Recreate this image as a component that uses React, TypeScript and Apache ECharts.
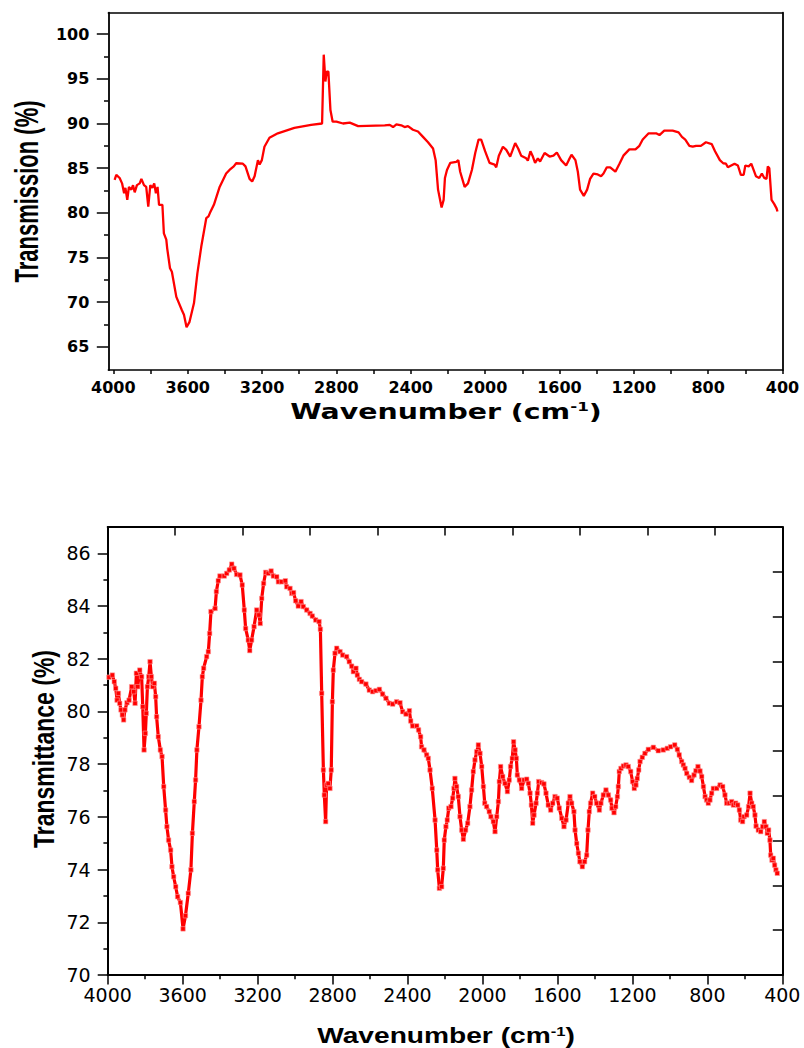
import React, { useEffect, useRef } from "react";
import * as echarts from "echarts";

// ---------- Top spectrum (Transmission %) ----------
const topWavenumber = [
  3993, 3984, 3966, 3953, 3942, 3935, 3925, 3916, 3903, 3894, 3885, 3873, 3858, 3849, 3835, 3823, 3812, 3801, 3790, 3780,
  3771, 3762, 3754, 3736, 3728, 3715, 3710, 3695, 3685, 3661, 3631, 3620, 3606, 3590, 3566, 3548, 3527, 3500, 3488, 3480,
  3459, 3428, 3393, 3375, 3352, 3339, 3303, 3289, 3267, 3253, 3240, 3222, 3213, 3201, 3187, 3160, 3115, 3026, 2936, 2877,
  2868, 2859, 2852, 2843, 2832, 2820, 2800, 2764, 2728, 2683, 2540, 2513, 2495, 2477, 2451, 2433, 2415, 2388, 2361, 2334,
  2307, 2280, 2266, 2253, 2234, 2223, 2216, 2205, 2187, 2155, 2144, 2134, 2110, 2092, 2071, 2053, 2035, 2021, 2000, 1976,
  1949, 1940, 1926, 1904, 1886, 1865, 1854, 1838, 1822, 1806, 1779, 1770, 1756, 1743, 1731, 1716, 1704, 1680, 1653, 1632,
  1614, 1591, 1564, 1550, 1535, 1514, 1501, 1489, 1469, 1451, 1435, 1417, 1394, 1376, 1363, 1345, 1327, 1299, 1277, 1256,
  1224, 1191, 1170, 1152, 1120, 1080, 1062, 1036, 991, 959, 941, 923, 901, 883, 865, 839, 812, 781, 763, 737,
  719, 704, 694, 658, 640, 624, 609, 600, 582, 568, 543, 525, 511, 498, 486, 479, 471, 459, 445, 432,
  427,
];
const topTransmission = [
  83.7, 84.25, 83.9, 83.3, 82.2, 82.8, 81.45, 82.9, 82.6, 83.1, 82.3, 83.1, 83.3, 83.8, 83.1, 82.9, 80.7, 83.1, 82.8, 83.3,
  82.2, 82.9, 80.9, 80.9, 77.7, 77.0, 76.0, 73.8, 73.4, 70.6, 69.1, 68.6, 67.2, 67.8, 69.9, 73.2, 76.2, 79.4, 79.6, 80.0,
  80.9, 82.9, 84.4, 84.8, 85.2, 85.55, 85.5, 85.2, 83.8, 83.5, 84.1, 85.9, 85.4, 85.9, 87.4, 88.4, 88.9, 89.5, 89.85, 90.0,
  97.7, 94.7, 95.8, 95.8, 91.5, 90.2, 90.2, 90.0, 90.1, 89.7, 89.8, 89.85, 89.6, 89.9, 89.8, 89.6, 89.7, 89.3, 89.1, 88.5,
  87.9, 87.2, 85.9, 82.6, 80.6, 81.45, 83.9, 84.8, 85.6, 85.7, 85.9, 84.6, 82.9, 83.3, 84.8, 86.7, 88.2, 88.2, 86.9, 85.6,
  85.4, 85.1, 86.4, 87.4, 87.05, 86.3, 86.9, 87.8, 87.2, 86.4, 86.1, 85.85, 86.9, 86.3, 85.6, 86.1, 85.75, 86.7, 86.3, 86.4,
  86.75, 85.9, 85.3, 85.9, 86.5, 85.9, 84.6, 82.6, 81.9, 82.6, 83.8, 84.4, 84.3, 84.1, 84.4, 85.1, 85.1, 84.6, 85.5, 86.4,
  87.1, 87.1, 87.5, 88.2, 88.9, 88.9, 88.7, 89.2, 89.2, 89.0, 88.5, 88.2, 87.5, 87.4, 87.5, 87.5, 87.9, 87.7, 86.9, 85.9,
  85.55, 85.5, 85.1, 85.5, 85.3, 84.25, 84.25, 85.3, 85.2, 85.5, 84.1, 83.9, 84.4, 83.9, 83.8, 85.2, 85.0, 81.45, 81.0, 80.5,
  80.15,
];

// ---------- Bottom spectrum (Transmittance %) ----------
const bottomWavenumber = [
  3993, 3975, 3965, 3957, 3950, 3943, 3936, 3929, 3922, 3915, 3908, 3897, 3886, 3872, 3861, 3854, 3847, 3840, 3829, 3819,
  3813, 3806, 3799, 3794, 3788, 3781, 3774, 3767, 3760, 3751, 3744, 3739, 3730, 3719, 3710, 3701, 3691, 3684, 3675, 3664,
  3657, 3648, 3637, 3627, 3612, 3598, 3585, 3570, 3556, 3548, 3538, 3531, 3524, 3513, 3502, 3495, 3488, 3472, 3463, 3456,
  3449, 3427, 3420, 3410, 3401, 3378, 3365, 3351, 3338, 3326, 3312, 3294, 3282, 3271, 3264, 3250, 3242, 3232, 3219, 3205,
  3193, 3186, 3178, 3168, 3157, 3143, 3128, 3116, 3098, 3089, 3072, 3052, 3045, 3027, 3018, 3008, 2997, 2983, 2968, 2956,
  2938, 2920, 2908, 2890, 2872, 2865, 2858, 2849, 2844, 2837, 2832, 2823, 2814, 2807, 2801, 2796, 2787, 2778, 2760, 2746,
  2725, 2711, 2698, 2689, 2675, 2668, 2657, 2645, 2622, 2604, 2586, 2568, 2550, 2533, 2515, 2497, 2479, 2458, 2440, 2426,
  2408, 2390, 2383, 2373, 2351, 2341, 2330, 2325, 2312, 2298, 2289, 2280, 2268, 2253, 2244, 2239, 2230, 2218, 2209, 2204,
  2195, 2188, 2180, 2168, 2159, 2152, 2147, 2138, 2129, 2120, 2111, 2102, 2090, 2079, 2067, 2058, 2049, 2040, 2031, 2022,
  2013, 2004, 1995, 1988, 1978, 1964, 1955, 1942, 1933, 1924, 1915, 1910, 1903, 1892, 1880, 1867, 1857, 1850, 1841, 1834,
  1826, 1819, 1814, 1803, 1791, 1778, 1764, 1755, 1746, 1739, 1732, 1725, 1714, 1707, 1700, 1684, 1672, 1661, 1649, 1636,
  1625, 1613, 1601, 1590, 1577, 1565, 1554, 1542, 1533, 1524, 1512, 1506, 1497, 1488, 1480, 1467, 1455, 1444, 1437, 1430,
  1423, 1412, 1401, 1391, 1376, 1368, 1355, 1341, 1328, 1316, 1309, 1298, 1289, 1280, 1275, 1270, 1261, 1248, 1234, 1222,
  1209, 1199, 1190, 1181, 1174, 1166, 1159, 1147, 1133, 1115, 1088, 1062, 1035, 1014, 996, 974, 960, 950, 937, 928,
  919, 910, 896, 884, 871, 861, 850, 839, 830, 821, 812, 804, 795, 786, 777, 768, 750, 732, 718, 706,
  697, 683, 670, 661, 649, 638, 629, 622, 612, 604, 590, 580, 572, 563, 555, 546, 540, 528, 515, 505,
  496, 487, 480, 473, 466, 462, 455, 448, 441, 434, 427,
];
const bottomTransmittance = [
  81.3, 81.38, 81.13, 80.88, 80.43, 80.69, 80.31, 80.06, 79.87, 79.68, 80.06, 80.33, 80.43, 80.94, 80.75, 80.31, 81.45, 80.94, 81.57, 81.32,
  80.18, 78.54, 79.17, 79.93, 80.94, 81.32, 81.89, 81.32, 80.94, 81.07, 80.56, 79.8, 79.04, 78.54, 78.29, 77.15, 76.26, 75.63, 75.12, 74.74,
  74.11, 73.73, 73.35, 72.97, 72.75, 71.75, 72.25, 73.1, 73.99, 75.38, 76.58, 77.4, 78.54, 79.42, 80.43, 81.32, 81.64, 82.08, 82.27, 82.96,
  83.79, 83.91, 84.55, 84.96, 85.14, 85.14, 85.24, 85.37, 85.59, 85.43, 85.2, 85.18, 84.8, 83.85, 83.15, 82.71, 82.31, 82.71, 83.22, 83.85,
  83.66, 83.34, 84.29, 84.86, 85.28, 85.24, 85.33, 85.14, 85.11, 84.92, 84.92, 84.96, 84.73, 84.67, 84.48, 84.51, 84.2, 84.0, 84.17, 83.98,
  83.85, 83.72, 83.62, 83.47, 83.41, 83.12, 80.69, 77.78, 76.83, 75.82, 77.21, 77.27, 77.08, 77.78, 80.37, 81.57, 82.21, 82.4, 82.27, 82.14,
  82.08, 81.89, 81.72, 81.51, 81.64, 81.38, 81.22, 81.13, 81.04, 80.81, 80.75, 80.79, 80.84, 80.66, 80.5, 80.31, 80.28, 80.37, 80.33, 79.99,
  79.9, 80.03, 79.64, 79.45, 79.45, 79.3, 79.04, 78.66, 78.54, 78.35, 78.22, 77.78, 77.08, 75.88, 74.74, 73.99, 73.29, 73.35, 74.05, 75.12,
  75.63, 75.88, 76.33, 76.39, 76.71, 77.08, 77.46, 77.15, 76.77, 76.01, 75.5, 75.15, 75.5, 75.76, 76.39, 77.02, 77.72, 78.16, 78.47, 78.73,
  78.41, 77.91, 77.15, 76.52, 76.39, 76.2, 76.01, 75.82, 75.44, 76.01, 76.58, 77.34, 77.91, 77.53, 77.27, 76.96, 77.4, 77.91, 78.22, 78.85,
  78.54, 78.22, 77.59, 77.4, 77.08, 77.4, 77.43, 77.27, 76.9, 76.45, 75.76, 76.07, 76.52, 76.9, 77.34, 77.3, 77.25, 76.9, 76.45, 76.26,
  76.52, 76.77, 76.71, 76.33, 75.95, 75.63, 75.88, 76.52, 76.77, 76.52, 76.2, 75.5, 74.99, 74.62, 74.3, 74.11, 74.3, 74.55, 75.5, 76.2,
  76.52, 76.9, 76.77, 76.52, 76.26, 76.52, 76.83, 77.02, 76.83, 76.64, 76.33, 76.16, 76.39, 76.77, 77.15, 77.72, 77.84, 77.93, 77.97, 77.91,
  77.72, 77.34, 77.08, 77.21, 77.46, 77.78, 78.1, 78.26, 78.41, 78.56, 78.64, 78.51, 78.54, 78.6, 78.66, 78.73, 78.56, 78.35, 78.1, 77.97,
  77.84, 77.65, 77.5, 77.38, 77.59, 77.75, 77.91, 77.74, 77.53, 77.15, 76.77, 76.64, 76.52, 76.64, 76.9, 77.08, 77.08, 77.21, 77.15, 76.83,
  76.52, 76.52, 76.58, 76.45, 76.52, 76.45, 76.26, 75.88, 75.82, 76.01, 76.07, 76.39, 76.9, 76.52, 76.39, 76.07, 75.65, 75.5, 75.44, 75.63,
  75.82, 75.63, 75.38, 75.5, 75.12, 74.55, 74.36, 74.43, 74.17, 73.99, 73.86,
];

// ---------- Tick values ----------
const xLabelTicks = [4000, 3600, 3200, 2800, 2400, 2000, 1600, 1200, 800, 400];
const xAllTicks = [4000, 3800, 3600, 3400, 3200, 3000, 2800, 2600, 2400, 2200, 2000, 1800, 1600, 1400, 1200, 1000, 800, 600, 400];
const xMinorTicks = [3800, 3400, 3000, 2600, 2200, 1800, 1400, 1000, 600];
const topYLabels = [65, 70, 75, 80, 85, 90, 95, 100];
const topYMinor = [67.5, 72.5, 77.5, 82.5, 87.5, 92.5, 97.5];
const bottomYLabels = [70, 72, 74, 76, 78, 80, 82, 84, 86];
const bottomYMinor = [71, 73, 75, 77, 79, 81, 83, 85];
const bottomTopTicks = [3640, 3280, 2920, 2560, 2200, 1840, 1480, 1120, 760];
const bottomRightTicks = [71.7, 73.4, 75.1, 76.8, 78.5, 80.2, 81.9, 83.6, 85.3];

const zip = (xs: number[], ys: number[]) => xs.map((x, i) => [x, ys[i]]);

const line = (w: number) => ({ show: true, onZero: false, lineStyle: { color: "#000", width: w } });
const noTick = { show: false };
const noLabel = { show: false };
const noSplit = { show: false };
const plain = (v: number) => String(v);

export default function App() {
  const ref = useRef<HTMLDivElement>(null);
  useEffect(() => {
    if (!ref.current) return;
    const chart = echarts.init(ref.current, undefined, { renderer: "svg" });
    const topFont = { fontFamily: "DejaVu Sans", fontWeight: "bold" as const, fontSize: 16, color: "#000", formatter: plain };
    const botFont = { fontFamily: "DejaVu Sans", fontWeight: "normal" as const, fontSize: 19, color: "#000", formatter: plain };
    const option: any = {
      animation: false,
      backgroundColor: "#ffffff",
      grid: [
        { left: 108.3, top: 12.7, width: 674.2, height: 357.4 },
        { left: 107.7, top: 527, width: 674.6, height: 448 },
      ],
      xAxis: [
        {
          type: "value", gridIndex: 0, position: "bottom", inverse: true, min: 400, max: 4027,
          axisLine: line(1.5),
          axisTick: { show: true, inside: false, length: 4, customValues: xAllTicks, lineStyle: { color: "#000", width: 1.5 } },
          axisLabel: { show: true, customValues: xLabelTicks, margin: 9, ...topFont },
          splitLine: noSplit,
        },
        {
          type: "value", gridIndex: 0, position: "top", inverse: true, min: 400, max: 4027,
          axisLine: line(1.5), axisTick: noTick, axisLabel: noLabel, splitLine: noSplit,
        },
        {
          type: "value", gridIndex: 1, position: "bottom", inverse: true, min: 400, max: 4000,
          axisLine: line(2),
          axisTick: { show: true, inside: false, length: 9.5, customValues: xLabelTicks, lineStyle: { color: "#000", width: 1.5 } },
          axisLabel: { show: true, customValues: xLabelTicks, margin: 10, ...botFont },
          splitLine: noSplit,
        },
        {
          type: "value", gridIndex: 1, position: "bottom", inverse: true, min: 400, max: 4000,
          axisLine: { show: false },
          axisTick: { show: true, inside: false, length: 4.3, customValues: xMinorTicks, lineStyle: { color: "#000", width: 1.5 } },
          axisLabel: noLabel, splitLine: noSplit,
        },
        {
          type: "value", gridIndex: 1, position: "top", inverse: true, min: 400, max: 4000,
          axisLine: line(2),
          axisTick: { show: true, inside: true, length: 8.5, customValues: bottomTopTicks, lineStyle: { color: "#000", width: 1.5 } },
          axisLabel: noLabel, splitLine: noSplit,
        },
      ],
      yAxis: [
        {
          type: "value", gridIndex: 0, position: "left", min: 62.4, max: 102.4,
          axisLine: line(1.8),
          axisTick: { show: true, inside: false, length: 11.5, customValues: topYLabels, lineStyle: { color: "#000", width: 1.5 } },
          axisLabel: { show: true, customValues: topYLabels, margin: 19, ...topFont },
          splitLine: noSplit,
        },
        {
          type: "value", gridIndex: 0, position: "left", min: 62.4, max: 102.4,
          axisLine: { show: false },
          axisTick: { show: true, inside: false, length: 4.3, customValues: topYMinor, lineStyle: { color: "#000", width: 1.5 } },
          axisLabel: noLabel, splitLine: noSplit,
        },
        {
          type: "value", gridIndex: 0, position: "right", min: 62.4, max: 102.4,
          axisLine: line(1.8), axisTick: noTick, axisLabel: noLabel, splitLine: noSplit,
        },
        {
          type: "value", gridIndex: 1, position: "left", min: 70, max: 87,
          axisLine: line(2),
          axisTick: { show: true, inside: false, length: 10, customValues: bottomYLabels, lineStyle: { color: "#000", width: 1.5 } },
          axisLabel: { show: true, customValues: bottomYLabels, margin: 17, ...botFont },
          splitLine: noSplit,
        },
        {
          type: "value", gridIndex: 1, position: "left", min: 70, max: 87,
          axisLine: { show: false },
          axisTick: { show: true, inside: false, length: 4.3, customValues: bottomYMinor, lineStyle: { color: "#000", width: 1.5 } },
          axisLabel: noLabel, splitLine: noSplit,
        },
        {
          type: "value", gridIndex: 1, position: "right", min: 70, max: 87,
          axisLine: line(2),
          axisTick: { show: true, inside: true, length: 9.5, customValues: bottomRightTicks, lineStyle: { color: "#000", width: 1.5 } },
          axisLabel: noLabel, splitLine: noSplit,
        },
      ],
      series: [
        {
          type: "line", xAxisIndex: 0, yAxisIndex: 0,
          data: zip(topWavenumber, topTransmission),
          showSymbol: false, symbol: "none",
          lineStyle: { color: "#ff0000", width: 2.3 },
          silent: true,
        },
        {
          type: "line", xAxisIndex: 2, yAxisIndex: 3,
          data: zip(bottomWavenumber, bottomTransmittance),
          symbol: "rect", symbolSize: 4.5, showSymbol: true,
          itemStyle: { color: "#ff0000", borderColor: "#ff9a9a", borderWidth: 0.6 },
          lineStyle: { color: "#ff0000", width: 3.2 },
          silent: true,
        },
      ],
      graphic: [
        {
          type: "text", x: 26.7, y: 191.5, rotation: Math.PI / 2, scaleY: 1.5,
          style: { text: "Transmission (%)", font: 'bold 22px "Liberation Sans"', fill: "#000", align: "center", verticalAlign: "middle" },
        },
        {
          type: "text", x: 446, y: 411, scaleX: 1.29,
          style: {
            text: "{a|Wavenumber (cm}{s|-1}{a|)}", align: "center", verticalAlign: "middle", fill: "#000",
            rich: {
              a: { fontFamily: "DejaVu Sans", fontWeight: "bold", fontSize: 22, fill: "#000", color: "#000" },
              s: { fontFamily: "DejaVu Sans", fontWeight: "bold", fontSize: 13, fill: "#000", color: "#000", verticalAlign: "top" },
            },
          },
        },
        {
          type: "text", x: 44.2, y: 749, rotation: Math.PI / 2, scaleY: 1.28,
          style: { text: "Transmittance (%)", font: 'bold 23px "Liberation Sans"', fill: "#000", align: "center", verticalAlign: "middle" },
        },
        {
          type: "text", x: 446, y: 1035.5, scaleX: 1.28,
          style: {
            text: "{a|Wavenumber (cm}{s|-1}{a|)}", align: "center", verticalAlign: "middle", fill: "#000",
            rich: {
              a: { fontFamily: "Liberation Sans", fontWeight: "bold", fontSize: 22, fill: "#000", color: "#000" },
              s: { fontFamily: "Liberation Sans", fontWeight: "bold", fontSize: 13, fill: "#000", color: "#000", verticalAlign: "top" },
            },
          },
        },
      ],
    };
    chart.setOption(option);
    return () => chart.dispose();
  }, []);
  return (
    <div
      ref={ref}
      style={{ position: "absolute", left: 0, top: 0, width: 804, height: 1048, background: "#fff" }}
    />
  );
}
